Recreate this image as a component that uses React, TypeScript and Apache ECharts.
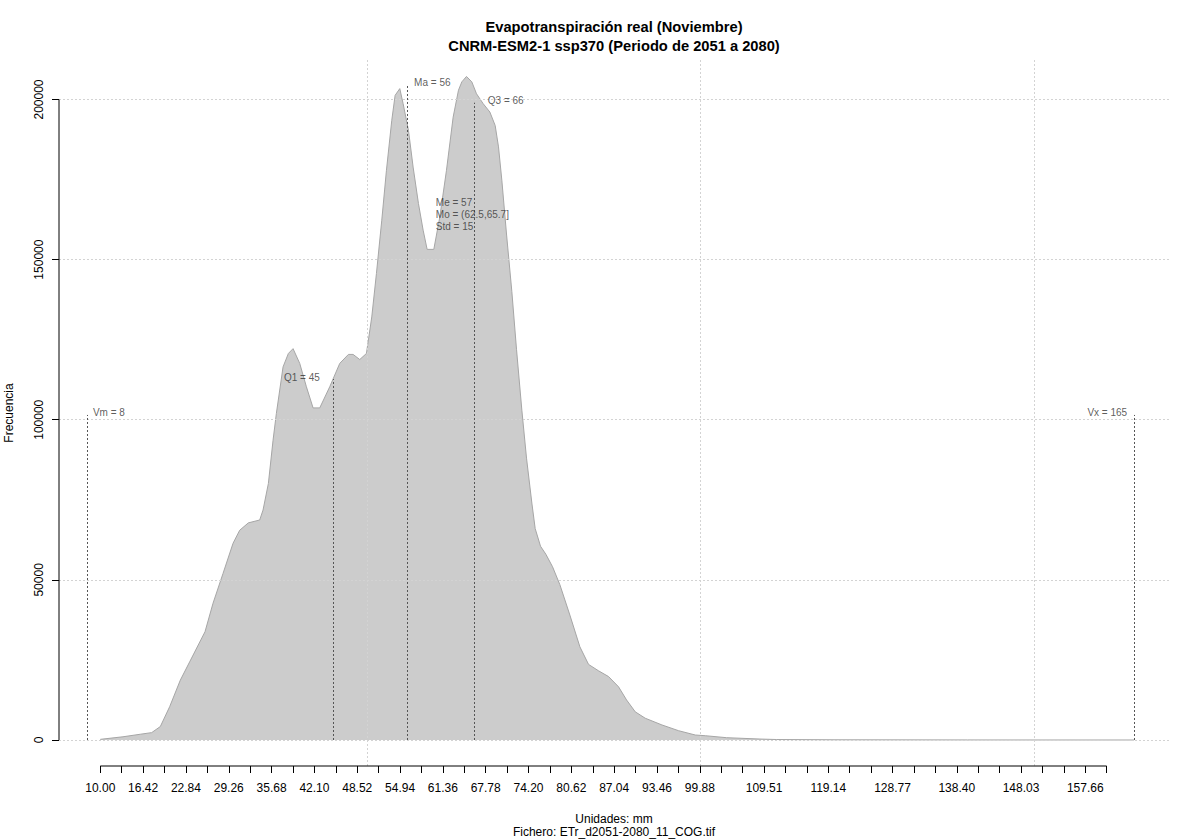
import React, { useEffect, useRef } from "react";
import * as echarts from "echarts";

// Density curve (value in mm, frequency)
const densityX = [
  10, 13.4, 16, 17.7, 19, 20.4, 22, 23.4, 25.7, 26.9, 28.4, 29.9, 30.9, 32.2, 33.9, 34.4, 35.2, 35.9,
  36.4, 37.4, 38.2, 38.9, 39.9, 40.9, 41.9, 42.9, 44.4, 45.9, 47.2, 47.9, 48.9, 49.9, 50.7, 51.4,
  52.2, 52.9, 53.7, 54.2, 54.9, 55.4, 56.2, 56.9, 57.7, 58.4, 59.0, 60.0, 60.9, 61.9, 62.9, 63.7,
  64.2, 64.9, 65.7, 66.4, 67.4, 68.4, 69.2, 69.7, 70.2, 70.9, 71.7, 72.4, 73.2, 73.9, 74.7, 75.2,
  76.0, 76.8, 77.8, 78.9, 80.4, 81.9, 83.2, 84.7, 86.2, 87.7, 88.9, 90.2, 91.7, 94.2, 96.7, 99.2,
  100.7, 103.9, 108.9, 111.4, 120, 140, 165
];
const densityY = [
  200, 1000, 1800, 2300, 4200, 10400, 18700, 24400, 33800, 42700, 52000, 61400, 65500, 67800, 68700,
  71800, 80100, 93600, 102000, 116500, 120700, 122200, 117600, 110300, 103700, 103700, 110300, 117600,
  120400, 120400, 118800, 120700, 132100, 145700, 162300, 177900, 193500, 201300, 203400, 198700,
  190400, 178900, 167500, 159200, 153200, 153200, 163300, 177900, 194500, 202900, 205500, 207200,
  205500, 201800, 198700, 196100, 191900, 185200, 174800, 158000, 140000, 122000, 103000, 88000,
  74000, 66000, 60500, 58000, 54100, 48500, 39000, 29100, 23600, 21600, 19800, 16600, 12500, 8800,
  6800, 4700, 2900, 1560, 1340, 720, 300, 150, 60, 20, 0
];

// Axis ticks and labels
const xTickStart = 10;
const xTickStep = 3.21;
const xTickCount = 48;
const xTickValues = Array.from({ length: xTickCount }, (_, i) =>
  Math.round((xTickStart + i * xTickStep) * 100) / 100
);
const xLabelValues = [
  10.0, 16.42, 22.84, 29.26, 35.68, 42.1, 48.52, 54.94, 61.36, 67.78, 74.2, 80.62, 87.04, 93.46,
  99.88, 109.51, 119.14, 128.77, 138.4, 148.03, 157.66
];
const yTickValues = [0, 50000, 100000, 150000, 200000];
const xGridValues = [50, 100, 150];

// Statistics annotations
const statNames = ["Vm", "Q1", "Ma", "Q3", "Vx"];
const statValues = [8, 45, 56, 66, 165];
const statTops = [101500, 112700, 204800, 199000, 101500];
const summaryLines = ["Me = 57", "Mo = (62.5,65.7]", "Std = 15"];
const summaryAnchor = [60.3, 164200];

const titleText = "Evapotranspiración real (Noviembre)\nCNRM-ESM2-1 ssp370 (Periodo de 2051 a 2080)";
const subText = "Unidades: mm\nFichero: ETr_d2051-2080_11_COG.tif";
const yName = "Frecuencia";

const X_MIN = 3.81;
const X_MAX = 170.37;
const Y_MIN = -8119;
const Y_MAX = 212334;

const FONT = "'Liberation Sans', Arial, sans-serif";

export default function App() {
  const ref = useRef<HTMLDivElement>(null);

  useEffect(() => {
    if (!ref.current) return;
    const chart = echarts.init(ref.current, null, { renderer: "svg" });

    const labelStyle: Record<string, { position: string; distance: number }> = {
      Vm: { position: "right", distance: 6 },
      Q1: { position: "left", distance: 14 },
      Ma: { position: "right", distance: 7 },
      Q3: { position: "right", distance: 14 },
      Vx: { position: "left", distance: 7 },
    };

    const statLabelData = statNames.map((n, i) => ({
      value: [statValues[i], statTops[i]],
      name: `${n} = ${statValues[i]}`,
      label: {
        show: true,
        position: labelStyle[n].position,
        distance: labelStyle[n].distance,
        offset: [0, -2],
        formatter: "{b}",
      },
    }));

    const densityData = densityX.map((x, i) => [x, densityY[i]]);
    const xTickFirst = xTickValues[0];
    const xTickLast = xTickValues[xTickValues.length - 1];

    // axis line segments: [x1, y1, x2, y2] in data units
    const axisLineData = [
      [xTickFirst, Y_MIN, xTickLast, Y_MIN],
      [X_MIN, yTickValues[0], X_MIN, yTickValues[yTickValues.length - 1]],
    ];

    const option: any = {
      animation: false,
      textStyle: { fontFamily: FONT },
      title: [
        {
          text: titleText,
          left: 609,
          top: 12,
          textAlign: "center",
          textStyle: { fontFamily: FONT, fontSize: 14.7, fontWeight: "bold", lineHeight: 19, color: "#000" },
        },
        {
          text: subText,
          left: 609,
          top: 807,
          textAlign: "center",
          textStyle: { fontFamily: FONT, fontSize: 12, fontWeight: "normal", lineHeight: 13, color: "#000" },
        },
      ],
      grid: { left: 59, right: 30, top: 60, bottom: 74, containLabel: false, outerBoundsMode: "none" },
      xAxis: {
        type: "value",
        min: X_MIN,
        max: X_MAX,
        axisLine: { show: false, onZero: false },
        splitLine: { show: false },
        axisTick: {
          show: true,
          length: 7,
          customValues: xTickValues,
          lineStyle: { color: "#000", width: 1 },
        },
        axisLabel: {
          show: true,
          customValues: xLabelValues,
          margin: 16,
          fontSize: 12,
          color: "#000",
          fontFamily: FONT,
          formatter: (v: number) => v.toFixed(2),
        },
      },
      yAxis: {
        type: "value",
        min: Y_MIN,
        max: Y_MAX,
        name: yName,
        nameLocation: "middle",
        nameGap: 44,
        nameRotate: 90,
        nameTextStyle: { fontFamily: FONT, fontSize: 12, color: "#000" },
        axisLine: { show: false, onZero: false },
        splitLine: { show: false },
        axisTick: {
          show: true,
          length: 7,
          customValues: yTickValues,
          lineStyle: { color: "#000", width: 1 },
        },
        axisLabel: {
          show: true,
          customValues: yTickValues,
          rotate: 90,
          margin: 14,
          fontSize: 12,
          color: "#000",
          fontFamily: FONT,
          formatter: (v: number) => String(v),
        },
      },
      series: [
        {
          name: "grid",
          type: "line",
          data: [[X_MIN, Y_MIN]],
          symbol: "none",
          z: 1,
          silent: true,
          lineStyle: { opacity: 0 },
          markLine: {
            silent: true,
            symbol: "none",
            label: { show: false },
            lineStyle: { color: "#D3D3D3", type: [2, 2], width: 1 },
            data: [
              ...xGridValues.map((v) => ({ xAxis: v })),
              ...yTickValues.map((v) => ({ yAxis: v })),
            ],
          },
        },
        {
          name: "density",
          type: "line",
          data: densityData,
          symbol: "none",
          smooth: false,
          z: 2,
          lineStyle: { color: "#A6A6A6", width: 1 },
          areaStyle: { color: "#CCCCCC", opacity: 1, origin: "auto" },
        },
        {
          name: "stats",
          type: "line",
          data: [[X_MIN, Y_MIN]],
          symbol: "none",
          z: 3,
          silent: true,
          lineStyle: { opacity: 0 },
          markLine: {
            silent: true,
            symbol: "none",
            label: { show: false },
            lineStyle: { color: "#555555", type: [2, 2], width: 1 },
            data: statValues.map((v, i) => [{ coord: [v, 0] }, { coord: [v, statTops[i]] }]),
          },
        },
        {
          name: "axisLines",
          type: "custom",
          clip: false,
          z: 5,
          silent: true,
          data: axisLineData,
          encode: { x: [0, 2], y: [1, 3] },
          renderItem: (params: any, api: any) => {
            const p1 = api.coord([api.value(0), api.value(1)]);
            const p2 = api.coord([api.value(2), api.value(3)]);
            return {
              type: "line",
              shape: { x1: p1[0], y1: p1[1], x2: p2[0], y2: p2[1] },
              style: { stroke: "#000", lineWidth: 1 },
            };
          },
        },
        {
          name: "labels",
          type: "scatter",
          symbolSize: 0,
          clip: false,
          z: 6,
          silent: true,
          label: { fontSize: 10, color: "#333333", fontFamily: FONT },
          data: [
            ...statLabelData,
            {
              value: summaryAnchor,
              name: summaryLines.join("\n"),
              label: {
                show: true,
                position: "right",
                distance: 0,
                lineHeight: 12,
                align: "left",
                formatter: "{b}",
              },
            },
          ],
        },
      ],
    };

    chart.setOption(option);
    return () => chart.dispose();
  }, []);

  return (
    <div
      ref={ref}
      style={{ position: "fixed", left: 0, top: 0, width: 1200, height: 840, background: "#fff" }}
    />
  );
}
